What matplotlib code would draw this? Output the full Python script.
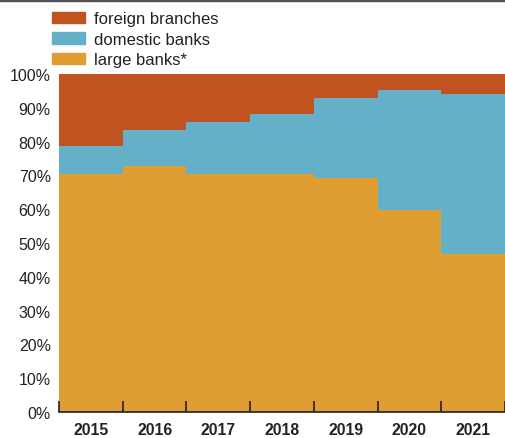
import numpy as np
import matplotlib.pyplot as plt
from matplotlib.patches import Patch
from matplotlib.lines import Line2D

plt.rcParams['font.family'] = ['Liberation Sans', 'DejaVu Sans']

years = ['2015', '2016', '2017', '2018', '2019', '2020', '2021']
# market shares in %
large_banks = [70.5, 72.8, 70.4, 70.4, 69.2, 59.8, 46.7]
domestic_banks = [8.2, 10.6, 15.4, 17.8, 23.7, 35.5, 47.4]
foreign_branches = [100 - l - d for l, d in zip(large_banks, domestic_banks)]

c_large = '#DE9E31'
c_dom = '#63B0C8'
c_for = '#C0531F'

fig = plt.figure(figsize=(5.05, 4.39), dpi=100)
ax = fig.add_axes([0.117, 0.059, 0.883, 0.770])

x = np.arange(len(years))
large = np.array(large_banks)
dom = np.array(domestic_banks)
ax.bar(x, large, width=1.0, align='edge', color=c_large, linewidth=0)
ax.bar(x, dom, width=1.0, align='edge', bottom=large, color=c_dom, linewidth=0)
ax.bar(x, foreign_branches, width=1.0, align='edge', bottom=large + dom,
       color=c_for, linewidth=0)

ax.set_xlim(0, len(years))
ax.set_ylim(0, 100)
ax.set_yticks(np.arange(0, 101, 10))
ax.set_yticklabels([f'{v}%' for v in range(0, 101, 10)])
ax.tick_params(axis='y', length=0, pad=6, labelsize=11.5, colors='#222222')

# year boundaries as major ticks, labels centred on minor ticks
ax.set_xticks(np.arange(len(years) + 1))
ax.set_xticklabels([])
ax.tick_params(axis='x', which='major', direction='in', length=8, width=1.2,
               color='#222222')
ax.set_xticks(x + 0.5, minor=True)
ax.set_xticklabels(years, minor=True, fontweight='bold', fontsize=11.3,
                   color='#222222')
ax.tick_params(axis='x', which='minor', length=0, pad=7)

for s in ['top', 'right', 'left']:
    ax.spines[s].set_visible(False)
ax.spines['bottom'].set_color('#222222')
ax.spines['bottom'].set_linewidth(1.2)

handles = [Patch(color=c_for), Patch(color=c_dom), Patch(color=c_large)]
labels = ['foreign branches', 'domestic banks', 'large banks*']
fig.legend(handles, labels, loc='upper left', bbox_to_anchor=(0.09, 0.987),
           frameon=False, fontsize=12, handlelength=2.0, handleheight=0.7,
           handletextpad=0.5, labelspacing=0.33, borderaxespad=0,
           labelcolor='#222222')

# dark rule along the top edge
fig.add_artist(Line2D([0, 1], [0.998, 0.998], transform=fig.transFigure,
                      color='#555555', linewidth=2.5))

fig.savefig('out.png', dpi=100)
